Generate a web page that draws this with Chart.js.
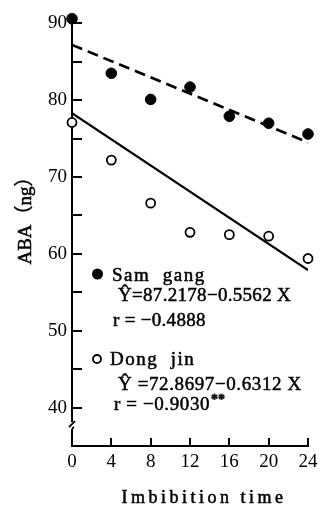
<!DOCTYPE html>
<html>
<head>
<meta charset="utf-8">
<script src="https://cdn.jsdelivr.net/npm/chart.js@4/dist/chart.umd.min.js"></script>
<style>
  html, body { margin: 0; padding: 0; background: #fff; }
  #wrap { width: 323px; height: 507px; position: relative; }
</style>
</head>
<body>
<div id="wrap"><canvas id="c" width="323" height="507"></canvas></div>
<script>
// ---- data ----
const times = [0, 4, 8, 12, 16, 20, 24];
const samGang = [90.6, 83.5, 80.1, 81.7, 77.9, 77.0, 75.6];
const dongJin = [77.1, 72.2, 66.6, 62.8, 62.5, 62.3, 59.4];
const fitX = [0, 24];
const samGangFit = [87.2, 74.5];
const dongJinFit = [78.3, 57.9];
const yLabelTicks = [40, 50, 60, 70, 80, 90];
const yAllTicks = [40, 45, 50, 55, 60, 65, 70, 75, 80, 85, 90];
const xTicks = [0, 4, 8, 12, 16, 20, 24];
const yBreakValue = 37.6;
const xTitle = 'Imbibition time';
const yTitle = 'ABA（ng）';
const legendSam = ['Sam  gang', 'Ŷ=87.2178−0.5562 X', 'r = −0.4888'];
const legendDong = ['Dong  jin', 'Ŷ =72.8697−0.6312 X', 'r = −0.9030', '**'];

const pts = (xs, ys) => xs.map((x, i) => ({x: x, y: ys[i]}));
const SERIF = '"Liberation Serif", "DejaVu Serif", serif';

function heavyText(ctx, s, x, y) {
  ctx.fillText(s, x, y);
  ctx.strokeText(s, x, y);
}

const decor = {
  id: 'decor',
  afterDraw(chart) {
    const ctx = chart.ctx;
    const xs = chart.scales.x, ys = chart.scales.y;
    const left = chart.chartArea.left, bottom = chart.chartArea.bottom;
    ctx.save();
    // inward ticks
    ctx.fillStyle = '#000';
    yAllTicks.forEach(v => {
      const py = Math.round(ys.getPixelForValue(v));
      ctx.fillRect(left, py - 1, 10, 2);
    });
    xTicks.forEach(v => {
      const px = Math.round(xs.getPixelForValue(v));
      ctx.fillRect(px - 1, bottom - 8, 2, 8);
    });
    ctx.strokeStyle = '#000';
    // axis break
    const by = ys.getPixelForValue(yBreakValue);
    ctx.fillStyle = '#fff';
    ctx.fillRect(left - 3, by - 4, 6, 8);
    ctx.lineWidth = 1.8;
    ctx.beginPath(); ctx.moveTo(left - 3, by + 1); ctx.lineTo(left + 3, by - 5); ctx.stroke();
    ctx.beginPath(); ctx.moveTo(left + 2, by + 1); ctx.quadraticCurveTo(left - 1, by + 3, left, by + 8); ctx.stroke();

    // titles
    ctx.fillStyle = '#000';
    ctx.lineWidth = 0.5;
    ctx.font = '18px ' + SERIF;
    ctx.textBaseline = 'middle';
    ctx.textAlign = 'center';
    ctx.letterSpacing = '3.5px';
    heavyText(ctx, xTitle, 204, 498);
    ctx.letterSpacing = '0px';
    ctx.save();
    ctx.translate(26, 216);
    ctx.rotate(-Math.PI / 2);
    ctx.font = '19px ' + SERIF + ', "Noto Sans CJK SC"';
    heavyText(ctx, yTitle, 0, 0);
    ctx.restore();

    // legend / annotations
    ctx.textAlign = 'left';
    ctx.beginPath(); ctx.arc(97.5, 274, 5.5, 0, Math.PI * 2); ctx.fill();
    ctx.font = '19px ' + SERIF;
    ctx.letterSpacing = '1.5px';
    heavyText(ctx, legendSam[0], 112, 276);
    ctx.letterSpacing = '0.3px';
    heavyText(ctx, legendSam[1], 118, 296);
    heavyText(ctx, legendSam[2], 113, 321);

    ctx.lineWidth = 1.8;
    ctx.beginPath(); ctx.arc(97, 359, 4, 0, Math.PI * 2); ctx.stroke();
    ctx.lineWidth = 0.5;
    ctx.letterSpacing = '1.5px';
    heavyText(ctx, legendDong[0], 110, 360);
    ctx.letterSpacing = '0.6px';
    heavyText(ctx, legendDong[1], 118, 385);
    heavyText(ctx, legendDong[2], 114, 405);
    const w = ctx.measureText(legendDong[2]).width;
    ctx.font = 'bold 14px ' + SERIF;
    ctx.letterSpacing = '0px';
    heavyText(ctx, legendDong[3], 114 + w + 1, 400);
    ctx.restore();
  }
};

new Chart(document.getElementById('c'), {
  type: 'scatter',
  data: {
    datasets: [
      { type: 'line', data: pts(fitX, samGangFit), borderColor: '#000', borderWidth: 2.6,
        borderDash: [11, 6], pointRadius: 0, fill: false, order: 3 },
      { type: 'line', data: pts(fitX, dongJinFit), borderColor: '#000', borderWidth: 2.2,
        pointRadius: 0, fill: false, order: 3 },
      { data: pts(times, samGang), backgroundColor: '#000', borderColor: '#000',
        pointRadius: 5.3, borderWidth: 1, clip: false, order: 1 },
      { data: pts(times, dongJin), backgroundColor: '#fff', borderColor: '#000',
        pointRadius: 4.5, borderWidth: 1.8, clip: false, order: 2 }
    ]
  },
  options: {
    responsive: false,
    animation: false,
    devicePixelRatio: 1,
    layout: { padding: { top: 10, right: 15, left: 0, bottom: 0 } },
    plugins: { legend: { display: false }, tooltip: { enabled: false } },
    scales: {
      x: {
        type: 'linear', min: 0, max: 24,
        afterFit: s => { s.height = 61; },
        afterBuildTicks: s => { s.ticks = xTicks.map(v => ({value: v})); },
        grid: { display: false, drawTicks: false },
        border: { display: true, color: '#000', width: 2 },
        ticks: { color: '#000', padding: 5, font: { family: SERIF, size: 19 }, maxRotation: 0 }
      },
      y: {
        type: 'linear', min: 35, max: 90.9,
        afterFit: s => { s.width = 72; },
        afterBuildTicks: s => { s.ticks = yLabelTicks.map(v => ({value: v})); },
        grid: { display: false, drawTicks: false },
        border: { display: true, color: '#000', width: 2 },
        ticks: { color: '#000', padding: 5, font: { family: SERIF, size: 19 } }
      }
    }
  },
  plugins: [decor]
});
</script>
</body>
</html>
